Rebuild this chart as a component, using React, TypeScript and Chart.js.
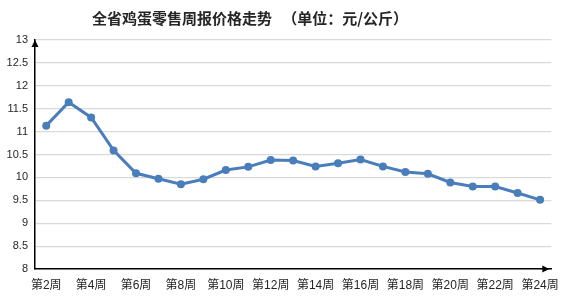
import React, { useEffect, useRef } from "react";
import { Chart, registerables } from "chart.js";

Chart.register(...registerables);

const TITLE = "全省鸡蛋零售周报价格走势   （单位：元/公斤）";
const WEEKS = [
  "第2周", "第3周", "第4周", "第5周", "第6周", "第7周", "第8周", "第9周",
  "第10周", "第11周", "第12周", "第13周", "第14周", "第15周", "第16周", "第17周",
  "第18周", "第19周", "第20周", "第21周", "第22周", "第23周", "第24周",
];
const PRICES = [
  11.13, 11.64, 11.31, 10.59, 10.09, 9.97, 9.85, 9.96, 10.16, 10.23, 10.38, 10.37,
  10.24, 10.31, 10.39, 10.24, 10.12, 10.08, 9.89, 9.8, 9.8, 9.66, 9.51,
];
const Y_MIN = 8;
const Y_MAX = 13;
const Y_STEP = 0.5;

const LINE_COLOR = "#4A7EBB";

const decor = {
  id: "decor",
  afterDraw(chart: any) {
    const { ctx, chartArea } = chart;
    ctx.save();
    ctx.fillStyle = "#262626";
    ctx.font = "bold 15px 'Noto Sans CJK SC'";
    ctx.textAlign = "left";
    ctx.textBaseline = "middle";
    ctx.fillText(TITLE, 92, 18);
    ctx.fillStyle = "#000";
    const x0 = chartArea.left;
    const yTop = chartArea.top;
    ctx.beginPath();
    ctx.moveTo(x0, yTop);
    ctx.lineTo(x0 - 3.5, yTop + 7);
    ctx.lineTo(x0 + 3.5, yTop + 7);
    ctx.closePath();
    ctx.fill();
    const yb = chartArea.bottom;
    const xr = chartArea.right - 2;
    ctx.beginPath();
    ctx.moveTo(xr, yb);
    ctx.lineTo(xr - 7, yb - 3.5);
    ctx.lineTo(xr - 7, yb + 3.5);
    ctx.closePath();
    ctx.fill();
    ctx.restore();
  },
};

export default function App() {
  const ref = useRef<HTMLCanvasElement>(null);
  useEffect(() => {
    document.body.style.margin = "0";
    const chart = new Chart(ref.current as HTMLCanvasElement, {
      type: "line",
      data: {
        labels: WEEKS,
        datasets: [
          {
            data: PRICES,
            borderColor: LINE_COLOR,
            backgroundColor: LINE_COLOR,
            borderWidth: 3,
            pointRadius: 4,
            pointBorderWidth: 0,
            pointBackgroundColor: LINE_COLOR,
            tension: 0,
          },
        ],
      },
      options: {
        responsive: false,
        animation: false,
        layout: { padding: { left: 0, right: 11, top: 40, bottom: 0 } },
        plugins: { legend: { display: false }, tooltip: { enabled: false }, title: { display: false } },
        scales: {
          x: {
            offset: true,
            grid: { display: false, drawTicks: false },
            border: { display: true, color: "#000", width: 1.5 },
            ticks: {
              autoSkip: false,
              maxRotation: 0,
              padding: 9,
              color: "#262626",
              font: { size: 12, family: "'Liberation Sans', 'Noto Sans CJK SC'" },
              callback: (_v: any, i: number) => (i % 2 === 0 ? WEEKS[i] : ""),
            },
            afterFit: (s: any) => {
              s.height = 32;
            },
          },
          y: {
            min: Y_MIN,
            max: Y_MAX,
            grid: { color: "#D9D9D9", lineWidth: 1.2, drawTicks: false },
            border: { display: true, color: "#000", width: 1.5 },
            ticks: {
              stepSize: Y_STEP,
              padding: 7,
              color: "#262626",
              font: { size: 11, family: "'Liberation Sans', 'Noto Sans CJK SC'" },
              callback: (v: any) => String(Number(v)),
            },
            afterFit: (s: any) => {
              s.width = 35;
            },
          },
        },
      },
      plugins: [decor],
    });
    return () => chart.destroy();
  }, []);
  return (
    <div style={{ width: 568, height: 301 }}>
      <canvas ref={ref} width={568} height={301} />
    </div>
  );
}
